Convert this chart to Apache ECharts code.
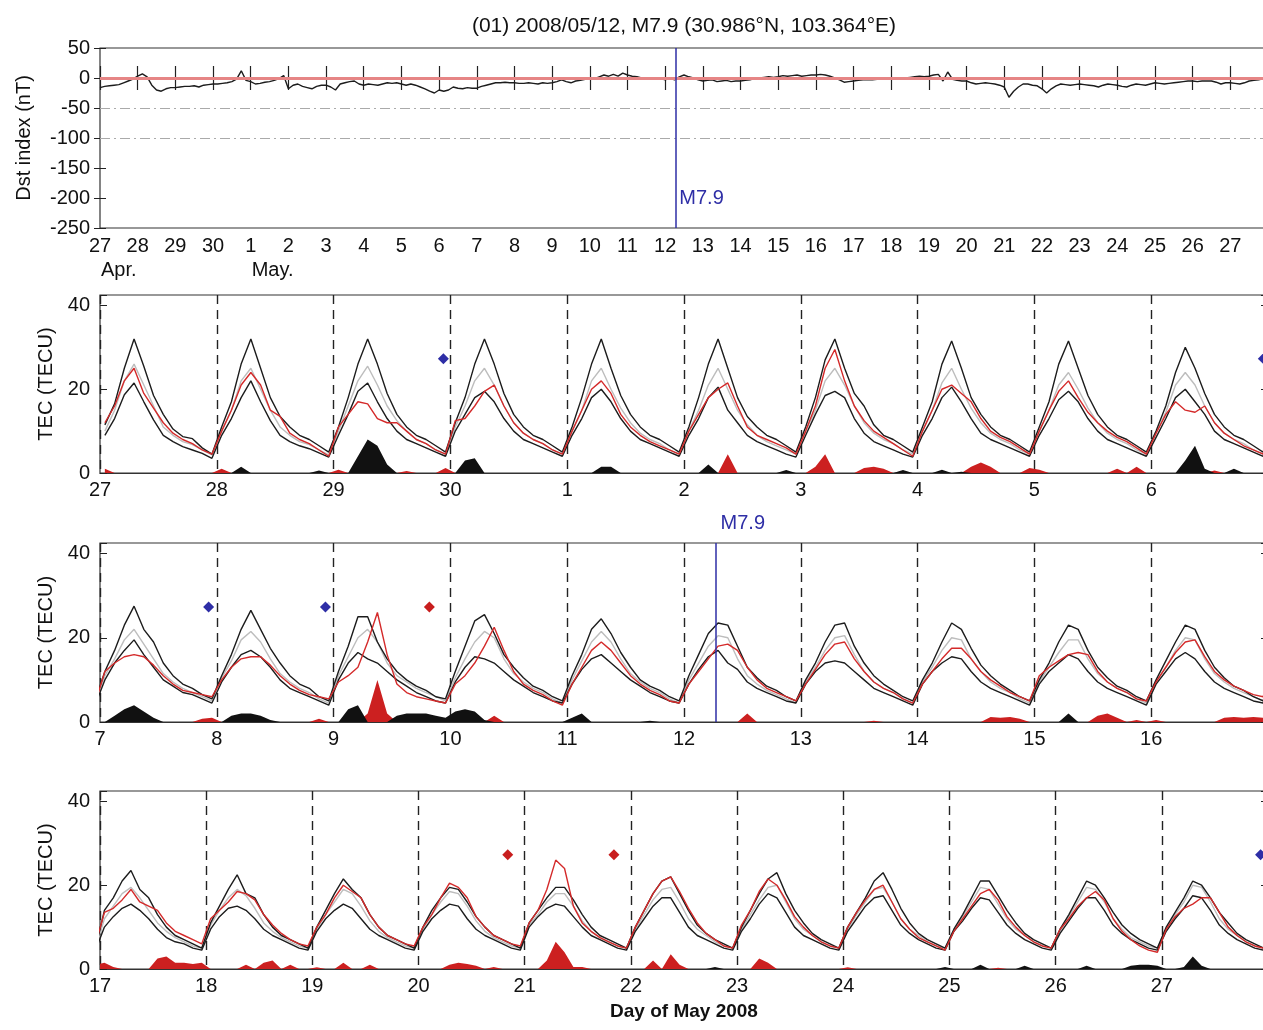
<!DOCTYPE html>
<html>
<head>
<meta charset="utf-8">
<script src="https://cdn.jsdelivr.net/npm/echarts@6/dist/echarts.min.js"></script>
<style>
  html, body { margin: 0; padding: 0; background: #fff; overflow: hidden; }
  #chart { width: 1263px; height: 1030px; }
</style>
</head>
<body>
<div id="chart"></div>
<script>
// x positions are days since 2008-04-27 00 UT
const dayLabels = ['27', '28', '29', '30', '1', '2', '3', '4', '5', '6', '7', '8', '9', '10', '11', '12',
  '13', '14', '15', '16', '17', '18', '19', '20', '21', '22', '23', '24', '25', '26', '27', '28'];
const monthLabels = ['Apr.', 'May.'];
const monthStarts = [0, 4];
const titleText = '(01) 2008/05/12, M7.9 (30.986°N, 103.364°E)';
const xTitle = 'Day of May 2008';
const quakeDay = 15.27; // 12 May 06:28 UT
const quakeLabel = 'M7.9';

// Dst index (nT), one row per day, 3-hourly from 00 UT
const dstHours = [0, 3, 6, 9, 12, 15, 18, 21];
const dstValues = [
  [-16, -14, -13, -12, -11, -8, -5, -2],
  [3, 7, 2, -12, -20, -22, -18, -16],
  [-16, -15, -14, -14, -13, -15, -12, -11],
  [-10, -10, -9, -8, -6, -2, 12, -4],
  [-6, -10, -9, -7, -6, -4, -1, 4],
  [-18, -12, -10, -14, -16, -18, -14, -12],
  [-12, -15, -20, -10, -8, -6, -5, -10],
  [-12, -10, -11, -12, -10, -8, -9, -8],
  [-10, -12, -10, -12, -15, -18, -22, -25],
  [-20, -22, -20, -15, -17, -18, -16, -17],
  [-17, -14, -12, -10, -8, -8, -7, -8],
  [-8, -9, -9, -8, -9, -10, -8, -9],
  [-8, -6, -3, -6, -8, -5, -4, -2],
  [0, -1, 2, 5, 3, 6, 3, 8],
  [5, 3, 2, 0, -1, 0, -2, -1],
  [-3, 0, -3, 2, 5, 2, 0, -3],
  [-5, -4, -3, -6, -5, -4, -6, -5],
  [-5, -4, -3, -1, 0, 1, 2, 1],
  [2, 4, 3, 4, 5, 3, 4, 5],
  [5, 6, 5, 3, 0, -3, -7, -6],
  [-5, -4, -3, -3, -3, -2, -2, -2],
  [-2, -1, 0, 0, 1, 2, 3, 2],
  [3, 5, 6, -5, 10, -2, -4, -5],
  [-5, -8, -10, -9, -8, -9, -10, -12],
  [-15, -32, -22, -15, -10, -10, -12, -13],
  [-18, -25, -18, -13, -10, -11, -12, -11],
  [-10, -11, -12, -13, -15, -12, -10, -11],
  [-12, -14, -15, -12, -10, -11, -12, -10],
  [-8, -9, -10, -9, -8, -7, -6, -5],
  [-5, -6, -5, -5, -5, -7, -10, -8],
  [-8, -9, -10, -8, -5, -4, -3, -1]
];

// TEC (TECU), one row per day, 2-hourly at odd UT hours
const tecHours = [1, 3, 5, 7, 9, 11, 13, 15, 17, 19, 21, 23];
const tecUpper = [
  [11.5, 16.5, 25, 32, 25.5, 18.5, 14, 10.5, 8.7, 8.2, 6, 4.5],
  [11, 17, 26, 32, 25, 18, 13.5, 11, 9, 8, 6.5, 5],
  [11, 18, 26, 32, 26, 19, 14, 11, 9, 8, 6.5, 5],
  [12, 18, 26, 32, 26, 19, 14, 11, 9, 8, 6.5, 5],
  [11, 18, 26, 32, 25, 18.5, 14, 11, 9, 8, 6.5, 5],
  [11, 18, 26, 32, 25, 18, 13.5, 11, 9, 8, 6.5, 5],
  [11, 18, 27, 32, 25, 19, 16, 11.5, 9, 8, 6.5, 5],
  [11, 17, 26, 31.5, 25, 18, 14, 11, 9, 8, 6.5, 5],
  [11, 17, 26, 31.5, 25, 18.5, 14, 11, 9, 8, 6.5, 5],
  [10, 16, 24, 30, 25, 19, 14, 11, 9, 8, 6.5, 5],
  [12, 17, 23, 27.5, 22, 19, 14, 11, 9, 8, 6.5, 5.5],
  [11, 16, 22, 26.5, 22, 17.5, 14, 11, 9, 8, 6, 5],
  [12, 18, 25, 25, 19, 15, 12, 10, 8.5, 7.5, 6, 5.5],
  [12, 18, 24, 25.5, 21, 16, 13, 10.5, 8.5, 7.5, 6, 5],
  [11, 16, 22, 24.5, 21, 16.5, 13, 10, 8.5, 7.5, 6, 5],
  [11, 16, 21, 23.5, 23, 18, 13, 10.5, 8.5, 7.5, 6, 5],
  [10, 14, 19, 23, 23.5, 18, 14, 11, 9, 7.5, 6, 5],
  [10, 14, 19, 23.5, 22, 17.5, 13.5, 11, 9, 7.5, 6, 5],
  [10, 14, 19, 23, 22, 17, 13, 10.5, 8.5, 7.5, 6, 5],
  [10, 14.5, 19, 23, 22, 17, 13, 10.5, 8.5, 7.5, 6, 5],
  [14, 17, 21, 23.5, 19, 17, 13, 10, 8, 7, 6, 5],
  [11, 15, 19, 22.5, 18, 17, 13, 10, 8, 7, 6, 5],
  [10, 14, 18, 21.5, 19, 17, 13, 10, 8, 7, 6, 5],
  [10, 14, 17, 19.5, 19, 16, 12.5, 10, 8, 7, 6, 5],
  [11, 14, 17, 19.5, 19.5, 16.5, 13, 10, 8, 7, 6, 5],
  [10, 14, 18, 21, 22, 18, 14, 10.5, 8.5, 7, 6, 5],
  [10, 14, 18, 21.5, 23, 18, 14, 11, 8.5, 7, 6, 5],
  [10, 13.5, 17, 21, 23, 19, 14.5, 11, 8.5, 7, 6, 5],
  [9.5, 13, 17, 21, 21, 17.5, 14, 11, 8.5, 7, 6, 5],
  [9.5, 13, 17, 21, 20, 17, 13.5, 10.5, 8.5, 7, 6, 5],
  [10, 13.5, 17, 21, 20, 17, 13.5, 11, 8.5, 7, 6, 5]
];
const tecLower = [
  [9, 13, 18.7, 21.5, 17, 12.7, 9, 7.5, 6.3, 5.5, 4.7, 3.5],
  [9, 13, 18, 22, 17, 12.5, 9, 7.5, 6.5, 5.8, 4.8, 3.8],
  [9, 14, 19.5, 21.5, 17, 13, 10, 8, 7, 6, 5, 4],
  [10, 14, 18, 19.5, 17, 13, 10, 8, 7, 6, 5, 4],
  [9, 13, 18, 20, 17, 13, 10, 8, 7, 6, 5, 4],
  [9, 13, 18, 20.5, 15, 12, 9, 7.5, 6.5, 5.5, 4.5, 3.8],
  [9, 14, 18.5, 19.5, 18, 13, 9.5, 7.5, 6.5, 5.5, 4.5, 3.8],
  [9, 13, 18, 20.5, 17, 13, 9.5, 8, 7, 6, 5, 4],
  [9, 13, 17.5, 19.5, 17, 13, 10, 8, 7, 6, 5, 4],
  [8.5, 13, 18, 20, 17, 14, 10, 8, 7, 6, 5, 4],
  [10, 14, 17, 19.5, 16, 13, 10, 8.5, 7, 6.5, 5.5, 4.5],
  [9.5, 13, 16, 17, 15.5, 13, 10, 8, 7, 6, 5, 4],
  [10, 14, 16.5, 15, 14, 12, 10, 8.5, 7, 6, 5, 4.5],
  [9.5, 13, 15.5, 15, 14, 12, 10, 8.5, 7, 6, 5, 4.5],
  [9, 12.5, 15, 16, 14, 12, 10, 8.5, 7, 6, 5, 4.5],
  [9, 12.5, 15.5, 17, 14, 12.5, 9.5, 8, 7, 6, 5, 4.5],
  [9, 12, 14, 14.5, 14, 12, 10, 8, 7, 6, 5, 4],
  [9, 12, 14, 15.5, 15, 12, 9.5, 8, 7, 6, 5, 4],
  [9, 12, 14, 16, 15, 12, 9.5, 8, 7, 6, 5, 4],
  [9, 12, 15, 16.5, 15, 12, 9.5, 8, 7, 6, 5, 4.5],
  [10, 12.5, 14.5, 15.5, 14, 12, 9.5, 7.5, 6.5, 6, 5, 4.5],
  [9.5, 12.5, 14.5, 15, 14, 12, 9.5, 8, 7, 6, 5, 4.5],
  [9, 12, 14, 15.5, 14.5, 12, 9.5, 8, 7, 6, 5, 4.5],
  [9, 12, 14, 15.5, 15, 12, 9.5, 8, 7, 6, 5, 4.5],
  [10, 12.5, 14.5, 15.5, 15, 12.5, 10, 8, 7, 6, 5, 4.5],
  [9, 12, 15, 17, 17, 13.5, 10, 8, 7, 6, 5, 4.5],
  [9, 12, 15.5, 18, 17, 13.5, 10, 8, 7, 6, 5, 4.5],
  [9, 12, 15, 17, 17.5, 14, 10.5, 8.5, 7, 6, 5, 4.5],
  [9, 11.5, 14.5, 17, 16.5, 13.5, 10.5, 8.5, 7, 6, 5, 4.5],
  [8.5, 11.5, 14.5, 17, 17, 14, 10.5, 8.5, 7, 6, 5, 4.5],
  [9, 12, 14.5, 17.5, 17, 14, 10.5, 8.5, 7, 6, 5, 4.5]
];
const tecMedian = [
  [10, 15, 22, 26, 21, 16, 11, 9, 7.5, 6.8, 5.5, 4.3],
  [10, 15, 22, 25, 20, 15, 11, 9, 7.5, 6.8, 5.5, 4.3],
  [10, 16, 22, 25.5, 21, 16, 12.5, 10, 8, 7, 5.5, 4.5],
  [11, 16, 22, 25, 21, 16, 12, 9.5, 8, 7, 5.5, 4.5],
  [10, 15, 22, 25, 20, 15.5, 12, 9.5, 8, 7, 5.5, 4.5],
  [10, 15, 21, 25, 20, 15, 11.5, 9, 7.5, 6.5, 5.5, 4.5],
  [10, 15, 22, 25, 21, 16, 12, 9.5, 8, 7, 5.5, 4.5],
  [10, 15, 21.5, 25, 20, 15.5, 12, 9.5, 8, 7, 5.5, 4.5],
  [10, 15, 21, 24, 20, 15.5, 12, 9.5, 8, 7, 5.5, 4.5],
  [9.5, 14.5, 21, 24, 21, 16, 12, 9.5, 8, 7, 5.5, 4.5],
  [11, 15, 19.5, 22, 18.5, 15, 11.5, 9.5, 8, 7, 6, 5],
  [10.5, 14.5, 19.5, 21.5, 19, 15, 11.5, 9.5, 8, 7, 5.5, 4.5],
  [11, 15.5, 20, 22, 19, 14, 11, 9.5, 8, 7, 6, 5],
  [10.5, 15, 19, 21.5, 20, 15, 11.5, 9.5, 8, 7, 5.5, 4.5],
  [10, 14.5, 19, 21.5, 19, 15, 11.5, 9.5, 8, 7, 5.5, 4.5],
  [10, 14, 18, 20.5, 20, 15, 11, 9, 7.5, 6.5, 5.5, 4.5],
  [9.5, 13, 17, 20, 20.5, 16, 12, 9.5, 8, 7, 5.5, 4.5],
  [9.5, 13, 17, 20, 19.5, 15, 12, 9.5, 8, 7, 5.5, 4.5],
  [9.5, 13, 16.5, 19.5, 19.5, 15, 11.5, 9.5, 8, 7, 5.5, 4.5],
  [9.5, 13, 17, 20, 19.5, 15, 11.5, 9.5, 8, 7, 6, 5],
  [12, 15, 18, 19.5, 17, 14, 11, 9, 7.5, 6.5, 5.5, 5],
  [10.5, 14, 17, 19, 17.5, 14.5, 11, 9, 7.5, 6.5, 5.5, 5],
  [9.5, 13, 16, 19, 18, 15, 11.5, 9, 7.5, 6.5, 5.5, 5],
  [9.5, 13, 16, 18.5, 18, 15, 11.5, 9, 7.5, 6.5, 5.5, 5],
  [10.5, 13, 16, 18, 18, 15, 11.5, 9, 7.5, 6.5, 5.5, 5],
  [9.5, 13, 16.5, 19, 19.5, 16, 12, 9.5, 8, 6.5, 5.5, 5],
  [9.5, 13, 16.5, 19.5, 20, 16, 12, 9.5, 8, 6.5, 5.5, 5],
  [9.5, 13, 16, 19, 19.5, 16, 12, 9.5, 8, 6.5, 5.5, 5],
  [9, 12.5, 16, 19.5, 19, 15.5, 12, 9.5, 8, 6.5, 5.5, 5],
  [9, 12.5, 16, 19.5, 19, 16, 12, 9.5, 7.5, 6.5, 5.5, 5],
  [9.5, 13, 16, 20, 19.5, 16, 12, 9.5, 8, 6.5, 5.5, 5]
];
const tecObserved = [
  [12, 16, 22, 25, 19, 15.5, 12, 9.5, 8, 7, 5.5, 4.5],
  [10, 15, 21, 24, 21, 15, 13.5, 9.5, 8, 7, 5.5, 4],
  [11, 14, 17, 16.5, 13, 12, 12, 10, 8, 7, 5.5, 4.5],
  [12.5, 13, 16, 19.5, 21, 16, 12, 9.5, 8, 7, 5.5, 4.5],
  [10, 15, 20, 22, 19, 14, 11, 9, 7.5, 6.5, 5.5, 4.5],
  [10, 14, 18, 20, 21.5, 16, 11, 9, 8, 7, 6, 4.5],
  [10, 16, 25, 29.5, 22, 16, 12.5, 10, 8.5, 7, 5.5, 4],
  [10, 15, 20, 21, 19, 17, 13, 10, 8.5, 7.5, 6, 4.5],
  [10, 15, 19.5, 22, 18, 14.5, 12, 10, 8.5, 7.5, 6, 4.5],
  [9.5, 14, 17, 15, 14.5, 16, 12, 9.5, 8, 6.5, 5.5, 4.5],
  [12, 14, 15.5, 16, 15.5, 13.5, 11, 9, 7.5, 7, 6.5, 6],
  [10, 13, 15, 15.5, 15.5, 13.5, 11, 9, 7.5, 6.5, 6, 5.5],
  [9.5, 11, 13, 19, 26, 16, 9, 7, 6, 5.5, 5, 4.5],
  [9, 11, 14, 18, 22.5, 17, 12, 9, 7.5, 6.5, 5, 4],
  [9, 13, 17, 19, 17, 14, 11, 9, 7.5, 6.5, 5, 4.5],
  [9, 12, 15, 18, 18.5, 17, 13, 10, 8, 7, 6, 5],
  [9, 12.5, 16, 18.5, 19, 15, 12, 9.5, 8, 7, 5.5, 4.5],
  [9, 12, 15, 17.5, 17.5, 15, 12, 10, 8.5, 7, 6, 5],
  [11, 13, 14.5, 16, 16.5, 16, 12, 9.5, 8, 7, 5.5, 5],
  [9.5, 13, 16.5, 19, 19.5, 15.5, 12, 10, 8.5, 7.5, 6.5, 6],
  [13.5, 14.5, 16.5, 19, 16, 15, 14, 11, 9, 8, 7, 6],
  [12, 14, 16, 18.5, 18, 16.5, 13, 10.5, 8.5, 7, 6, 5.5],
  [10, 13, 17, 20, 18.5, 17, 13, 10, 8, 7, 6, 5.5],
  [10, 13, 17, 20.5, 19.5, 17, 12.5, 10, 8, 7, 6, 5.5],
  [11, 14, 19, 26, 24, 15, 11, 9, 7.5, 6.5, 5.5, 5],
  [10, 14, 18, 21, 22, 18.5, 14.5, 11, 8.5, 7, 5.5, 5],
  [10.5, 14, 18.5, 21.5, 20, 16.5, 12.5, 10, 8, 6.5, 5.5, 5],
  [10, 13.5, 16.5, 19, 20, 16, 12, 9.5, 7.5, 6.5, 5.5, 4.5],
  [9, 12, 15, 18, 19, 16.5, 12.5, 10, 8, 6.5, 5.5, 5],
  [9.5, 12, 15, 17, 18.5, 16.5, 12, 9, 7, 5.5, 4.5, 4],
  [9.5, 12.5, 14.5, 15.5, 17, 17, 13.5, 10, 8, 6.5, 5.5, 5]
];
// anomaly above upper bound (+, red) or below lower bound (-, black)
const tecAnomaly = [
  [1, 0, 0, 0, 0, 0, 0, 0, 0, 0, 0, 0],
  [1, 0, -1.5, 0, 0, 0, 0, 0, 0, 0, -0.6, 0],
  [0.8, 0, -4, -8, -6.5, -2, 0, 0.5, 0, 0, 0, 1.2],
  [0, -3, -3.5, 0, 0, 0, 0, 0, 0, 0, 0, 0],
  [0, 0, 0, -1.5, -1.5, 0, 0, 0, 0, 0, 0, 0],
  [0, 0, -2, 0, 4.5, 0, 0, 0, 0, 0, -0.7, 0],
  [0, 1.5, 4.5, 0, 0, 0, 1.2, 1.5, 1, 0, -0.7, 0],
  [0, 0, -0.8, 0, -0.3, 1.5, 2.5, 1.5, 0, 0, 0, 1.2],
  [0.8, 0, 0, 0, 0, 0, 0, 0, 1, 0, 1.5, 0],
  [0, 0, 0, -3, -6.5, -1, 0.6, 0, -1, 0, 0, 0],
  [0, -1.5, -3, -4, -2.5, -1, 0, 0, 0, 0, 0.8, 1],
  [0, -1.5, -2, -2, -1.5, -0.5, 0, 0, 0, 0, 0.8, 0],
  [0, -3, -4, 2, 10, 2, -1.5, -2, -2, -2, -1.5, -1],
  [-2.5, -3, -2.5, -0.5, 1.5, 0, 0, 0, 0, 0, 0, 0],
  [-1, -2, 0, 0, 0, 0, 0, 0, -0.3, 0, 0, 0],
  [0, 0, 0, 0, 0, 0, 2, 0, 0, 0, 0, 0],
  [0, 0, 0, 0, 0, 0, 0, 0.3, 0, 0, 0, 0],
  [0, 0, 0, 0, 0, 0, 0, 1.2, 1, 1.2, 0.8, 0],
  [0, 0, 0, -2, 0, 0, 1.5, 2, 1, 0, 0.5, 0],
  [0.5, 0, 0, 0, 0, 0, 0, 1, 1.2, 1, 1.2, 1],
  [1.5, 0.5, 0, 0, 0, 0, 2.5, 3, 1.5, 1.5, 1.2, 1.5],
  [0, 0, 0, 0, 1, 0, 1.5, 2, 0, 1, 0, 0],
  [0.4, 0, 0, 1.5, 0, 0, 1, 0, 0, 0, 0, 0],
  [0, 0, 0, 1, 1.5, 1.2, 0.8, 0, 0.5, 0, 0, 0],
  [0, 0, 2, 6.5, 4, 0.5, 0.5, 0, 0, 0, 0, 0],
  [0, 0, 2, 0, 3.5, 1, 0, 0, 0, -0.5, 0, 0],
  [0, 0, 2.5, 1.5, 0, 0, 0, 0, 0, 0, 0, 0],
  [0.4, 0, 0, 0, 0, 0, 0, 0, 0, 0, 0, -0.5],
  [0, 0, 0, -1, 0, 0.3, 0, 0, -0.8, 0, 0, 0],
  [0, 0, 0, -0.8, 0, 0, 0, 0, -0.8, -1, -1, -0.8],
  [0, 0, -0.5, -3, -0.8, 0, 0, 0, 0, 0, 0, 0]
];
// disturbance markers (day positions) drawn at a fixed TEC level
const blueMarks = [2.94, 9.96, 10.93, 11.93, 30.93];
const redMarks = [12.82, 23.84, 24.84];
const markLevel = 27.3;

const panels = [[0, 10], [10, 20], [20, 31]];

const font = '"Liberation Sans", Arial, sans-serif';
const labelStyle = { fontFamily: font, fontSize: 20, color: '#111' };
const black = '#1c1c1c';
const redLine = '#d42a2a';
const blue = '#2e2ea6';

function points(days, hours, lo, hi, fn) {
  const out = [];
  days.forEach((vals, d) => {
    vals.forEach((v, k) => {
      const x = d + hours[k] / 24;
      if (x >= lo - 0.1 && x <= hi + 0.1) out.push([x, fn ? fn(v) : v]);
    });
  });
  return out;
}

const chart = echarts.init(document.getElementById('chart'));

const grid = [
  { left: 100, top: 48, width: 1168, height: 180 },
  { left: 100, top: 295, width: 1168, height: 178 },
  { left: 100, top: 543, width: 1168, height: 179 },
  { left: 100, top: 791, width: 1168, height: 178 }
].map((g) => Object.assign(g, { show: true, borderColor: '#333', borderWidth: 1.2, outerBoundsMode: 'none' }));

const dayFormatter = (v) => dayLabels[Math.round(v)] || '';

const xAxis = [
  {
    type: 'value', gridIndex: 0, min: 0, max: 31, interval: 1,
    axisLine: { lineStyle: { color: '#333', width: 1.2 } },
    axisTick: { inside: true, length: 12, lineStyle: { color: '#222', width: 1.2 } },
    axisLabel: Object.assign({ formatter: dayFormatter, margin: 8, showMaxLabel: false }, labelStyle),
    splitLine: { show: false }
  },
  {
    type: 'value', gridIndex: 0, min: 0, max: 31, interval: 1, position: 'top',
    axisLine: { lineStyle: { color: '#333', width: 1.2 } },
    axisTick: { inside: true, length: 12, lineStyle: { color: '#222', width: 1.2 } },
    axisLabel: { show: false },
    splitLine: { show: false }
  }
];
panels.forEach(([lo, hi], p) => {
  xAxis.push({
    type: 'value', gridIndex: p + 1, min: lo, max: hi, interval: 1,
    axisLine: { lineStyle: { color: '#333', width: 1.2 } },
    axisTick: { show: false },
    axisLabel: Object.assign({ formatter: dayFormatter, margin: 7, showMaxLabel: false }, labelStyle),
    splitLine: { show: true, lineStyle: { color: '#222', width: 1.4, type: [9, 6] } }
  });
});

const yAxis = [
  {
    type: 'value', gridIndex: 0, min: -250, max: 50, interval: 50,
    name: 'Dst index (nT)', nameLocation: 'middle', nameGap: 66, nameRotate: 90,
    nameTextStyle: labelStyle,
    axisLine: { show: false },
    axisTick: { inside: true, length: 6, lineStyle: { color: '#222' } },
    axisLabel: Object.assign({ margin: 10 }, labelStyle),
    splitLine: { show: false }
  },
  {
    type: 'value', gridIndex: 0, min: -250, max: 50, interval: 50, position: 'right',
    axisLine: { show: false },
    axisTick: { inside: true, length: 6, lineStyle: { color: '#222' } },
    axisLabel: { show: false },
    splitLine: { show: false }
  }
];
panels.forEach((_, p) => {
  yAxis.push({
    type: 'value', gridIndex: p + 1, min: 0, max: 42.5, interval: 20,
    name: 'TEC (TECU)', nameLocation: 'middle', nameGap: 44, nameRotate: 90,
    nameTextStyle: labelStyle,
    axisLine: { show: false },
    axisTick: { inside: true, length: 7, lineStyle: { color: '#222' } },
    axisLabel: Object.assign({ margin: 10, formatter: (v) => (v % 20 === 0 ? String(v) : '') }, labelStyle),
    splitLine: { show: false }
  });
  yAxis.push({
    type: 'value', gridIndex: p + 1, min: 0, max: 42.5, interval: 20, position: 'right',
    axisLine: { show: false },
    axisTick: { inside: true, length: 7, lineStyle: { color: '#222' } },
    axisLabel: { show: false },
    splitLine: { show: false }
  });
});

const dstData = points(dstValues, dstHours, 0, 31);
const series = [
  {
    // reference lines under the Dst trace
    type: 'line', xAxisIndex: 0, yAxisIndex: 0, data: dstData, symbol: 'none',
    lineStyle: { opacity: 0 }, z: 1, silent: true,
    markLine: {
      silent: true, symbol: 'none', animation: false, label: { show: false },
      data: [
        { yAxis: 0, lineStyle: { color: '#e68585', width: 3, type: 'solid' } },
        { yAxis: -50, lineStyle: { color: '#aaa', width: 1.2, type: [10, 4, 2, 4] } },
        { yAxis: -100, lineStyle: { color: '#aaa', width: 1.2, type: [10, 4, 2, 4] } },
        { xAxis: quakeDay, lineStyle: { color: blue, width: 1.5, type: 'solid' } }
      ]
    }
  },
  {
    type: 'line', xAxisIndex: 0, yAxisIndex: 0, data: dstData, symbol: 'none',
    lineStyle: { color: black, width: 1.4 }, z: 3, silent: true
  }
];

panels.forEach(([lo, hi], p) => {
  const axes = { xAxisIndex: p + 2, yAxisIndex: 2 + 2 * p };
  const fill = (fn, color) => Object.assign({
    type: 'line', data: points(tecAnomaly, tecHours, lo, hi, fn), symbol: 'none',
    lineStyle: { width: 0 }, areaStyle: { color, opacity: 1 }, z: 1, silent: true
  }, axes);
  const curve = (src, color, z) => Object.assign({
    type: 'line', data: points(src, tecHours, lo, hi), symbol: 'none',
    lineStyle: { color, width: 1.4 }, z, silent: true
  }, axes);
  const marks = (list, color) => Object.assign({
    type: 'scatter', symbol: 'diamond', symbolSize: 11, z: 5, silent: true,
    itemStyle: { color, opacity: 1 },
    data: list.filter((x) => x >= lo && x <= hi).map((x) => [x, markLevel])
  }, axes);
  series.push(
    fill((v) => Math.max(v, 0), '#cc2020'),
    fill((v) => Math.max(-v, 0), '#111'),
    curve(tecMedian, '#bdbdbd', 2),
    curve(tecUpper, black, 3),
    curve(tecLower, black, 3),
    curve(tecObserved, redLine, 4),
    marks(blueMarks, blue),
    marks(redMarks, '#c81e1e')
  );
  if (quakeDay >= lo && quakeDay <= hi) {
    series.push(Object.assign({
      type: 'line', data: [], symbol: 'none', z: 6, silent: true,
      markLine: {
        silent: true, symbol: 'none', animation: false, label: { show: false },
        data: [{ xAxis: quakeDay, lineStyle: { color: blue, width: 1.5, type: 'solid' } }]
      }
    }, axes));
  }
});

chart.setOption({ animation: false, grid, xAxis, yAxis, series });

// texts anchored to axis positions
const px = (g, x, y) => chart.convertToPixel({ gridIndex: g }, [x, y]);
const textItem = (x, y, text, extra) => ({
  type: 'text', x, y, silent: true,
  style: Object.assign({ text, fontFamily: font, fontSize: 20, fill: '#111', align: 'left', verticalAlign: 'middle' }, extra || {})
});
const mid = (px(0, 0, 50)[0] + px(0, 31, 50)[0]) / 2;
const graphic = [
  textItem(mid, 26, titleText, { align: 'center', fontSize: 21 }),
  textItem(mid, 1012, xTitle, { align: 'center', fontSize: 19, fontWeight: 'bold' })
];
monthStarts.forEach((d, i) => {
  const p = px(0, d, -250);
  graphic.push(textItem(p[0] + 1, p[1] + 42, monthLabels[i]));
});
const q0 = px(0, quakeDay, -200);
graphic.push(textItem(q0[0] + 4, q0[1], quakeLabel, { fill: blue }));
const q2 = px(2, quakeDay, 42.5);
graphic.push(textItem(q2[0] + 5, q2[1] - 20, quakeLabel, { fill: blue }));
chart.setOption({ graphic });
</script>
</body>
</html>
